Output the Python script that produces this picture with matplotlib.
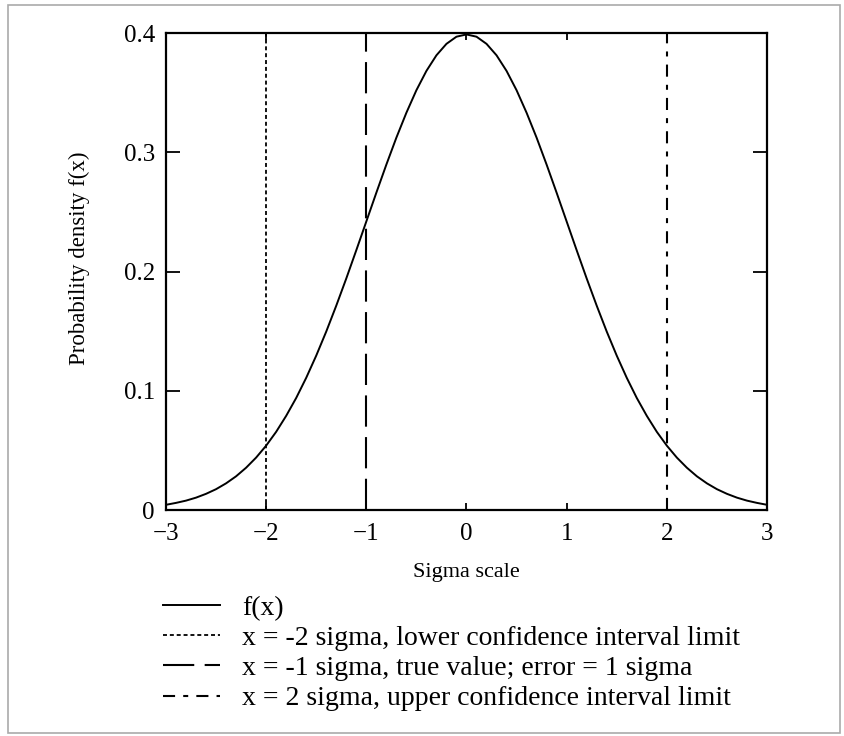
import matplotlib.pyplot as plt
from matplotlib.patches import Rectangle

# dados
x = [-3.0, -2.9, -2.8, -2.7, -2.6, -2.5, -2.4, -2.3, -2.2, -2.1,
     -2.0, -1.9, -1.8, -1.7, -1.6, -1.5, -1.4, -1.3, -1.2, -1.1,
     -1.0, -0.9, -0.8, -0.7, -0.6, -0.5, -0.4, -0.3, -0.2, -0.1,
     0.0, 0.1, 0.2, 0.3, 0.4, 0.5, 0.6, 0.7, 0.8, 0.9,
     1.0, 1.1, 1.2, 1.3, 1.4, 1.5, 1.6, 1.7, 1.8, 1.9,
     2.0, 2.1, 2.2, 2.3, 2.4, 2.5, 2.6, 2.7, 2.8, 2.9, 3.0]
fx = [0.0044, 0.0060, 0.0079, 0.0104, 0.0136, 0.0175, 0.0224, 0.0283, 0.0355, 0.0440,
      0.0540, 0.0656, 0.0790, 0.0940, 0.1109, 0.1295, 0.1497, 0.1714, 0.1942, 0.2179,
      0.2420, 0.2661, 0.2897, 0.3123, 0.3332, 0.3521, 0.3683, 0.3814, 0.3910, 0.3970,
      0.3989, 0.3970, 0.3910, 0.3814, 0.3683, 0.3521, 0.3332, 0.3123, 0.2897, 0.2661,
      0.2420, 0.2179, 0.1942, 0.1714, 0.1497, 0.1295, 0.1109, 0.0940, 0.0790, 0.0656,
      0.0540, 0.0440, 0.0355, 0.0283, 0.0224, 0.0175, 0.0136, 0.0104, 0.0079, 0.0060, 0.0044]
x_inf = -2
x_real = -1
x_sup = 2
legendas = ['f(x)',
            'x = -2 sigma, lower confidence interval limit',
            'x = -1 sigma, true value; error = 1 sigma',
            'x = 2 sigma, upper confidence interval limit']
yticks = [0, 0.1, 0.2, 0.3, 0.4]
ylabels = ['0', '0.1', '0.2', '0.3', '0.4']
xticks = [-3, -2, -1, 0, 1, 2, 3]

plt.rcParams['font.family'] = ['Liberation Serif', 'DejaVu Serif']

fig = plt.figure(figsize=(8.45, 7.36), dpi=100)
ax = fig.add_axes([0.1964, 0.307, 0.7113, 0.648])

l1, = ax.plot(x, fx, color='black', lw=1.4)
l2, = ax.plot([x_inf, x_inf], [0, 0.4], color='black', lw=1.3, dashes=(2.2, 1.6))
l3, = ax.plot([x_real, x_real], [0, 0.4], color='black', lw=1.5, dashes=(15, 5))
l4, = ax.plot([x_sup, x_sup], [0, 0.4], color='black', lw=1.5, dashes=(5.8, 3.9, 2.4, 3.9))

ax.set_xlim(-3, 3)
ax.set_ylim(0, 0.4)
ax.set_xticks(xticks)
ax.set_xticklabels(['\u2212' + str(abs(t)) if t < 0 else str(t) for t in xticks])
ax.set_yticks(yticks)
ax.set_yticklabels(ylabels)
ax.tick_params(axis='y', direction='in', length=10, width=1.3, labelsize=18,
               right=True, pad=8)
ax.tick_params(axis='x', direction='in', length=5, width=1.3, labelsize=18,
               top=True, pad=9)
for s in ax.spines.values():
    s.set_linewidth(1.6)

ax.set_xlabel('Sigma scale', fontsize=16, labelpad=13)
ax.set_ylabel('Probability density f(x)', fontsize=16.5)
ax.yaxis.set_label_coords(-0.126, 0.528)

fig.legend([l1, l2, l3, l4], legendas, loc='upper left',
           bbox_to_anchor=(163 / 845, 0.191), frameon=False, fontsize=20,
           borderpad=0, borderaxespad=0,
           handlelength=2.05, handletextpad=0.8, labelspacing=0.17)

# moldura cinza
fig.add_artist(Rectangle((0.009, 0.004), 0.985, 0.989, transform=fig.transFigure,
                         fill=False, edgecolor='#aaaaaa', lw=1.2))

fig.savefig('out.png', dpi=100)
